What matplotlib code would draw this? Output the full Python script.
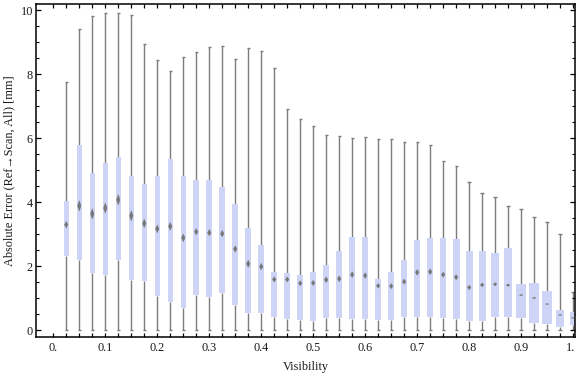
import matplotlib
matplotlib.use("Agg")
import matplotlib.pyplot as plt
from matplotlib.patches import Polygon
from matplotlib.ticker import MultipleLocator, FixedLocator
import matplotlib.transforms as mtransforms
import numpy as np

visibility = [0.025, 0.05, 0.075, 0.1, 0.125, 0.15, 0.175, 0.2, 0.225, 0.25,
              0.275, 0.3, 0.325, 0.35, 0.375, 0.4, 0.425, 0.45, 0.475, 0.5,
              0.525, 0.55, 0.575, 0.6, 0.625, 0.65, 0.675, 0.7, 0.725, 0.75,
              0.775, 0.8, 0.825, 0.85, 0.875, 0.9, 0.925, 0.95, 0.975, 1.0]

whisker_lo = [0.0] * 40
whisker_hi = [7.75, 9.43, 9.81, 9.93, 9.93, 9.87, 8.96, 8.46, 8.09, 8.55,
              8.71, 8.87, 8.90, 8.47, 8.81, 8.72, 8.19, 6.91, 6.59, 6.38,
              6.09, 6.06, 6.00, 6.03, 5.97, 5.97, 5.90, 5.88, 5.78, 5.28,
              5.13, 4.63, 4.28, 4.16, 3.88, 3.78, 3.53, 3.38, 3.01, 1.19]
q3 = [4.03, 5.79, 4.92, 5.23, 5.42, 4.82, 4.57, 4.82, 5.35, 4.82,
      4.70, 4.70, 4.47, 3.94, 3.19, 2.67, 1.82, 1.79, 1.73, 1.82,
      2.04, 2.48, 2.91, 2.91, 1.60, 1.82, 2.20, 2.82, 2.88, 2.88,
      2.85, 2.48, 2.48, 2.41, 2.57, 1.45, 1.48, 1.23, 0.63, 0.57]
q1 = [2.32, 2.20, 1.79, 1.73, 2.20, 1.57, 1.55, 1.07, 0.88, 0.70,
      1.10, 1.04, 1.17, 0.79, 0.55, 0.55, 0.43, 0.36, 0.33, 0.30,
      0.39, 0.39, 0.36, 0.36, 0.33, 0.32, 0.43, 0.43, 0.43, 0.39,
      0.34, 0.28, 0.30, 0.43, 0.43, 0.39, 0.23, 0.20, 0.11, 0.17]
median = [3.30, 3.89, 3.64, 3.82, 4.08, 3.58, 3.34, 3.17, 3.25, 2.89,
          3.08, 3.05, 3.02, 2.54, 2.08, 1.99, 1.59, 1.59, 1.47, 1.48,
          1.58, 1.61, 1.74, 1.71, 1.39, 1.38, 1.52, 1.81, 1.83, 1.74,
          1.66, 1.34, 1.42, 1.44, 1.41, 1.10, 1.01, 0.82, 0.48, 0.39]
median_ci = [0.10, 0.16, 0.16, 0.16, 0.16, 0.16, 0.13, 0.12, 0.12, 0.12,
             0.10, 0.10, 0.10, 0.10, 0.11, 0.10, 0.08, 0.08, 0.08, 0.08,
             0.09, 0.09, 0.09, 0.09, 0.07, 0.08, 0.08, 0.09, 0.09, 0.08,
             0.08, 0.07, 0.06, 0.05, 0.04, 0.02, 0.02, 0.015, 0.015, 0.015]
box_width = [0.0096] * 10 + [0.0106] * 7 + [0.0115] * 8 + [0.0121] * 5 + \
            [0.0135, 0.0135, 0.0135, 0.0160, 0.0167, 0.0187, 0.0192, 0.0206,
             0.0154, 0.0129]

x_tick_values = [0.0, 0.1, 0.2, 0.3, 0.4, 0.5, 0.6, 0.7, 0.8, 0.9, 1.0]
x_tick_labels = ["0.", "0.1", "0.2", "0.3", "0.4", "0.5", "0.6", "0.7", "0.8", "0.9", "1."]
y_tick_values = [0, 2, 4, 6, 8, 10]

SERIF = ["Liberation Serif", "DejaVu Serif"]
plt.rcParams['font.family'] = SERIF

fig = plt.figure(figsize=(5.76, 3.77), dpi=100)
ax = fig.add_axes([0.063, 0.1053, 0.935, 0.8833])

box_color = "#CDD4F5"
gray = "#7c7c7c"

x = np.array(visibility)
q1a = np.array(q1)
q3a = np.array(q3)

ax.bar(x, q3a - q1a, bottom=q1a, width=box_width, color=box_color,
       edgecolor="none", zorder=2)
ax.vlines(x, whisker_lo, q1a, color=gray, lw=1.0, zorder=1)
ax.vlines(x, q3a, whisker_hi, color=gray, lw=1.0, zorder=1)
cap = 0.0032
ax.hlines(whisker_lo, x - cap, x + cap, color=gray, lw=1.0, zorder=1)
ax.hlines(whisker_hi, x - cap, x + cap, color=gray, lw=1.0, zorder=1)

dw = 0.0034
for xi, m, h in zip(visibility, median, median_ci):
    hh = max(h, 0.012)
    poly = Polygon([(xi - dw, m), (xi, m + hh), (xi + dw, m), (xi, m - hh)],
                   closed=True, facecolor="#777777", edgecolor="#777777",
                   lw=0.3, zorder=3)
    ax.add_patch(poly)

ax.set_xlim(-0.0327, 1.0033)
ax.set_ylim(-0.219, 10.19)

ax.xaxis.set_major_locator(FixedLocator(x_tick_values))
ax.set_xticklabels(x_tick_labels)
ax.xaxis.set_minor_locator(FixedLocator(visibility))
ax.yaxis.set_major_locator(FixedLocator(y_tick_values))
ax.yaxis.set_minor_locator(MultipleLocator(0.5))

fs = 8.8
ax.tick_params(axis='x', which='both', direction='in', length=3.2, width=0.9,
               top=True, bottom=True, labelsize=fs, pad=3.5, colors='black',
               labelcolor='#1a1a1a')
ax.tick_params(axis='y', which='major', direction='in', length=3.8, width=0.9,
               left=True, right=True, labelsize=fs, pad=2.5, labelcolor='#1a1a1a')
ax.tick_params(axis='y', which='minor', direction='in', length=2.2, width=0.8,
               left=True, right=True)
for s in ax.spines.values():
    s.set_linewidth(1.1)
    s.set_color('black')

# nudge the last x label so it stays inside the figure
last = ax.get_xticklabels()[-1]
last.set_transform(last.get_transform() +
                   mtransforms.ScaledTranslation(-3 / 100, 0, fig.dpi_scale_trans))

ax.set_xlabel("Visibility", fontsize=fs, color='#1a1a1a')
ax.xaxis.set_label_coords(0.5, -0.071)
ax.set_ylabel("Absolute Error (Ref\u2192Scan, All) [mm]", fontsize=fs, color='#1a1a1a')
ax.yaxis.set_label_coords(-0.0395, 0.5)

fig.savefig("out.png", dpi=100)
